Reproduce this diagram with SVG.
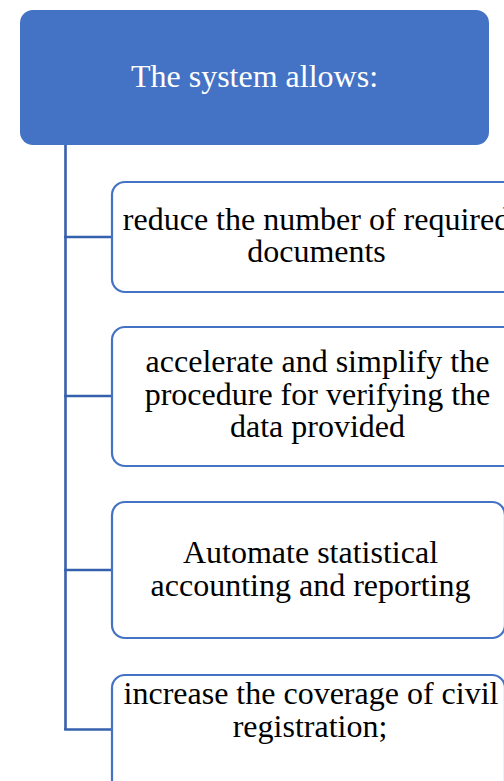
<svg xmlns="http://www.w3.org/2000/svg" width="504" height="781" viewBox="0 0 504 781">
  <style>
    .head { fill: #4472C4; }
    .item { fill: #ffffff; stroke: #4472C4; stroke-width: 2.2; }
    .conn { fill: none; stroke: #3560AD; stroke-width: 2.6; }
    text { font-family: "Liberation Serif", "Times New Roman", serif; font-size: 32px; text-anchor: middle; }
    .head-text { fill: #ffffff; }
    .item-text { fill: #000000; }
  </style>

  <!-- tree connectors -->
  <g id="connectors">
    <line class="conn" x1="65.5" y1="145" x2="65.5" y2="730"/>
    <line class="conn" x1="64.2" y1="237" x2="112" y2="237"/>
    <line class="conn" x1="64.2" y1="396" x2="112" y2="396"/>
    <line class="conn" x1="64.2" y1="570" x2="112" y2="570"/>
    <line class="conn" x1="64.2" y1="729.5" x2="112" y2="729.5"/>
  </g>

  <g id="root">
    <rect class="head" x="20" y="10" width="469" height="135" rx="13"/>
    <text class="head-text" x="254.5" y="87">The system allows:</text>
  </g>

  <g id="item-documents">
    <rect class="item" x="112" y="182" width="410" height="110" rx="13"/>
    <text class="item-text" x="316.5" y="230">reduce the number of required</text>
    <text class="item-text" x="316.5" y="262">documents</text>
  </g>

  <g id="item-verification">
    <rect class="item" x="112" y="327" width="410" height="139" rx="13"/>
    <text class="item-text" x="317.5" y="372">accelerate and simplify the</text>
    <text class="item-text" x="317.5" y="404.5">procedure for verifying the</text>
    <text class="item-text" x="317.5" y="437">data provided</text>
  </g>

  <g id="item-reporting">
    <rect class="item" x="112" y="502" width="393" height="136" rx="13"/>
    <text class="item-text" x="310.5" y="563">Automate statistical</text>
    <text class="item-text" x="310.5" y="596">accounting and reporting</text>
  </g>

  <g id="item-coverage">
    <rect class="item" x="112" y="675" width="393" height="136" rx="13"/>
    <text class="item-text" x="311" y="704">increase the coverage of civil</text>
    <text class="item-text" x="310" y="737">registration;</text>
  </g>
</svg>
